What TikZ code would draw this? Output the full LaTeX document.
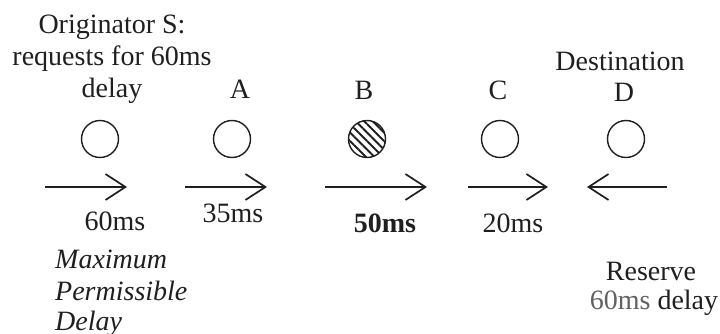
\documentclass[tikz,border=0pt]{standalone}
\usepackage{fontspec}
\setmainfont{Liberation Serif}
\usetikzlibrary{arrows.meta,patterns.meta}
\definecolor{ink}{rgb}{0.12,0.12,0.12}
\definecolor{softink}{rgb}{0.38,0.38,0.38}
\begin{document}
\begin{tikzpicture}[x=1pt,y=-1pt,
  lbl/.style={inner sep=0pt,anchor=base,text=ink,font=\fontsize{28}{32}\selectfont},
  itl/.style={lbl,anchor=base west,font=\fontsize{28}{32}\selectfont\itshape},
  router/.style={draw=ink,line width=1.4pt,circle,minimum width=35pt,minimum height=37pt,inner sep=0pt},
  link/.style={draw=ink,line width=1.7pt,-{Straight Barb[length=20pt,width=26pt,line width=1.7pt]}}]
\useasboundingbox (0,0) rectangle (720,334);

% routers along the path
\node[router] (S) at (100,139) {};
\node[router] (A) at (232,139) {};
\node[router,pattern={Lines[angle=-45,distance=6pt,line width=2pt]},pattern color=ink] (B) at (367,139) {};
\node[router] (C) at (500,139) {};
\node[router] (D) at (626,139) {};

% names above the routers
\node[lbl] (s1) at (112,34) {Originator S:};
\node[lbl] (s2) at (112,66) {requests for 60ms};
\node[lbl] (s3) at (112,98) {delay};
\node[lbl] (la) at (240,99) {A};
\node[lbl] (lb) at (364,100) {B};
\node[lbl] (lc) at (498,100) {C};
\node[lbl] (dest) at (620,71) {Destination};
\node[lbl] (ld) at (624,102) {D};

% link arrows
\coordinate (a1s) at (45,187);  \coordinate (a1e) at (127,187);
\coordinate (a2s) at (185,187); \coordinate (a2e) at (267,187);
\coordinate (a3s) at (325,187); \coordinate (a3e) at (427,187);
\coordinate (a4s) at (468,187); \coordinate (a4e) at (548,187);
\coordinate (a5s) at (667,187); \coordinate (a5e) at (587,187);
\draw[link] (a1s) -- (a1e);
\draw[link] (a2s) -- (a2e);
\draw[link] (a3s) -- (a3e);
\draw[link] (a4s) -- (a4e);
\draw[link] (a5s) -- (a5e);

% per-link delays
\node[lbl] (d1) at (115,230) {60ms};
\node[lbl] (d2) at (233,222) {35ms};
\node[lbl] (d3) at (385,232) {\bfseries 50ms};
\node[lbl] (d4) at (513,232) {20ms};

% notes
\node[itl] (m1) at (55,268) {Maximum};
\node[itl] (m2) at (55,300) {Permissible};
\node[itl] (m3) at (55,330) {Delay};
\node[lbl] (r1) at (651,280) {Reserve};
\node[lbl] (r2) at (654,309) {\textcolor{softink}{60ms} delay};
\end{tikzpicture}
\end{document}
